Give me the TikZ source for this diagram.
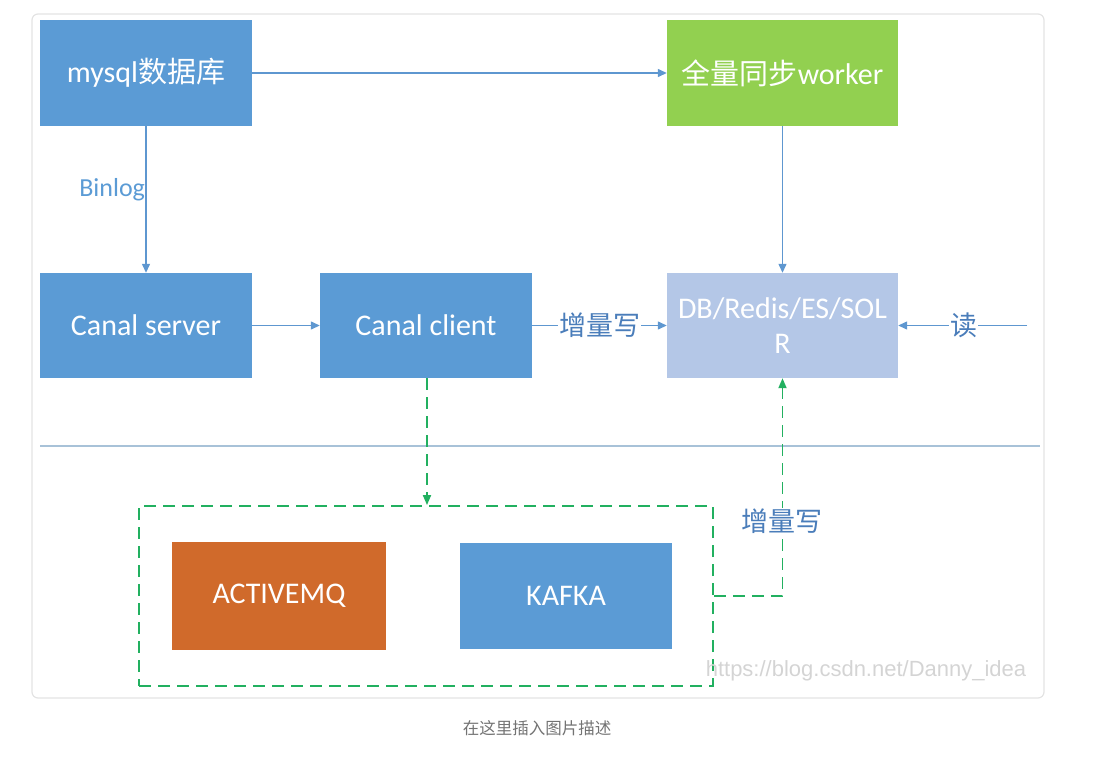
\documentclass[tikz,border=0pt]{standalone}
\usepackage{fontspec}
\setmainfont{Carlito}
\newfontfamily\cjk{Noto Sans CJK SC}
\usetikzlibrary{arrows.meta}
\definecolor{boxblue}{HTML}{5B9BD5}
\definecolor{boxgreen}{HTML}{92D050}
\definecolor{boxlav}{HTML}{B4C7E7}
\definecolor{boxorange}{HTML}{D06A2B}
\definecolor{dgreen}{HTML}{22B060}
\definecolor{lineblue}{HTML}{5E97D0}
\definecolor{labblue}{HTML}{4A7DBA}
\definecolor{sepline}{HTML}{A8C2D8}
\definecolor{framegray}{HTML}{E3E3E3}
\begin{document}
\begin{tikzpicture}[x=1pt,y=-1pt,
  box/.style={fill=#1, text=white, inner sep=0pt, align=center,
    font=\fontsize{30}{35}\selectfont},
  conn/.style={draw=lineblue, line width=1.3pt, -{Triangle[length=9pt,width=8pt]}},
  dconn/.style={draw=dgreen, line width=1.8pt, dash pattern=on 12pt off 7pt,
    -{Triangle[length=10pt,width=8pt]}},
  lab/.style={fill=white, inner sep=1pt, text=labblue, font=\cjk\fontsize{27}{32}\selectfont}]
\useasboundingbox (0,0) rectangle (1096,758);
\draw[framegray, line width=1.2pt, rounded corners=6pt] (32,14) rectangle (1044,698);

\node[box=boxblue, minimum width=212pt, minimum height=106pt] (mysql) at (146,73) {mysql{\cjk\fontsize{29}{35}\selectfont 数据库}};
\node[box=boxgreen, minimum width=231pt, minimum height=106pt] (worker) at (782.5,73) {{\cjk\fontsize{29}{35}\selectfont 全量同步}worker};
\node[box=boxblue, minimum width=212pt, minimum height=105pt] (server) at (146,325.5) {Canal server};
\node[box=boxblue, minimum width=212pt, minimum height=105pt] (client) at (426,325.5) {Canal client};
\node[box=boxlav, minimum width=231pt, minimum height=105pt] (db) at (782.5,325.5) {DB/Redis/ES/SOL\\R};

\draw[sepline, line width=2pt] (40,446) -- (1040,446);

\node[draw=dgreen, line width=1.8pt, dash pattern=on 12pt off 7pt, minimum width=574pt, minimum height=180pt] (mq) at (426,596) {};
\node[box=boxorange, minimum width=214pt, minimum height=108pt] (amq) at (279,596) {ACTIVEMQ};
\node[box=boxblue, minimum width=212pt, minimum height=106pt] (kafka) at (566,596) {KAFKA};

\draw[conn] (mysql) -- node[pos=0.43, left=-3pt, text=boxblue, font=\fontsize{26}{30}\selectfont] (binlog) {Binlog} (server);
\draw[conn] (mysql) -- (worker);
\draw[conn] (server) -- (client);
\draw[conn] (client) -- node[lab] (inc1) {增量写} (db);
\draw[conn] (worker) -- (db);
\coordinate (reader) at (1027,325.5);
\draw[conn] (reader) -- node[lab, pos=0.49] (read) {读} (db);

\draw[dconn] (client.south -| 427,0) -- (mq.north -| 427,0);
\draw[dconn] (mq.east) -| (db.south);
\node[lab] (inc2) at (782,521) {增量写};

\node[text=black!17, font=\fontspec{Liberation Sans}\fontsize{22}{26}\selectfont] (wm) at (866,671) {https://blog.csdn.net/Danny\_idea};
\node[text=black!55, font=\cjk\fontsize{16.5}{20}\selectfont] (cap) at (537,728) {在这里插入图片描述};
\end{tikzpicture}
\end{document}
